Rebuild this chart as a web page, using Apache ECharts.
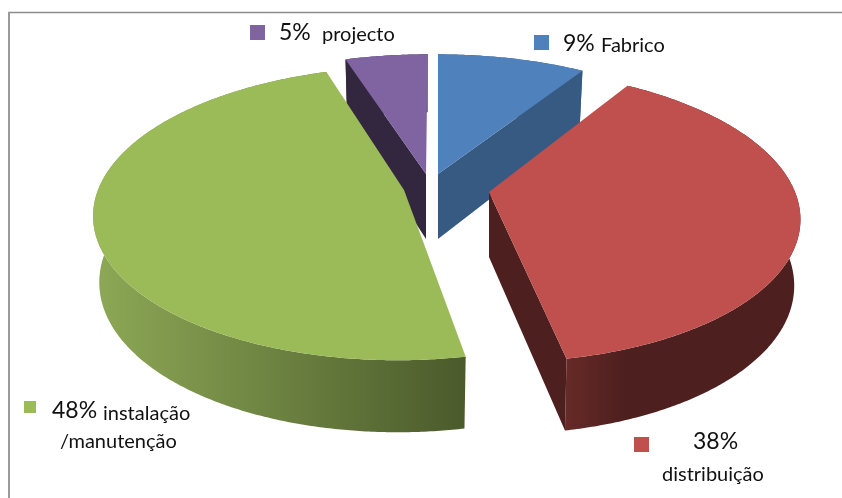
<!DOCTYPE html>
<html>
<head>
<meta charset="utf-8">
<style>html,body{margin:0;padding:0;background:#fff}#chart{width:842px;height:498px}</style>
<script src="https://cdn.jsdelivr.net/npm/echarts@6/dist/echarts.min.js"></script>
</head>
<body>
<div id="chart"></div>
<script>
// Shares of the four activities, clockwise from twelve o'clock.
const categories = ['Fabrico', 'distribuição', 'instalação /manutenção', 'projecto'];
const shares = [9, 38, 48, 5];

// Appearance of each slice.
const topColors = ['#4f81bd', '#c0504d', '#9bbb59', '#8064a2'];
const faceColors = ['#375a83', '#4d1f1e', '#4b5b2b', '#33263f'];
const wallStops = [
  ['#375a83', '#375a83'],
  ['#662a28', '#4d1f1e'],
  ['#8ca755', '#4a5a2b'],
  ['#33263f', '#33263f']
];
const wallSpan = [[438, 580], [567, 625], [100, 467], [347, 427]];
const paintOrder = [2, 3, 4, 1];

// Each slice is pulled out of the pie: where its tip lands and how far back it sits.
const sliceTip = [[438, 174], [489, 192], [404, 190], [426, 174]];
const sliceBack = [0.1, 0, 0, 0.1];

// Perspective settings of the pie.
const axisX = 438, radiusX = 306, radiusY = 143, persp = 0.16;
const floorScale = 0.98, wallHeight = 65, wallTaper = 7;

// Key entries: swatch box, percentage position, name lines.
const keyFont = 'Lato, "Open Sans", sans-serif';
const keyBoxes = [[534, 35, 15], [634, 437, 15], [24, 401, 12], [250, 25, 15]];
const keyValues = [[563, 44], [693, 442], [52, 411], [279, 33]];
const keyNames = [
  [['Fabrico', 601, 46]],
  [['distribuição', 662, 475]],
  [['instalação', 103, 414], ['/manutenção', 60, 442]],
  [['projecto', 322, 35]]
];

function project(i, deg, r, floor) {
  const a = deg * Math.PI / 180, yn = r * Math.cos(a), back = sliceBack[i];
  const tip = sliceTip[i], off = tip[0] - axisX;
  const dx = (off + radiusX * r * Math.sin(a)) / (1 + persp * yn) - off;
  const dy = radiusY * ((yn + back) / (1 + persp * (yn + back)) - back / (1 + persp * back));
  return [
    tip[0] + dx * (floor ? floorScale : 1),
    tip[1] - dy + (floor ? wallHeight - wallTaper * yn : 0)
  ];
}

function arc(i, from, to, floor) {
  const pts = [], steps = Math.max(2, Math.ceil((to - from) * 2));
  for (let k = 0; k <= steps; k++) pts.push(project(i, from + (to - from) * k / steps, 1, floor));
  return pts;
}

function radialFace(i, deg) {
  return {
    type: 'polygon',
    shape: { points: [project(i, 0, 0, false), project(i, deg, 1, false), project(i, deg, 1, true), project(i, 0, 0, true)] },
    style: { fill: faceColors[i] }
  };
}

const total = shares.reduce((s, v) => s + v, 0);

function renderSlice(params, api) {
  const i = params.dataIndex;
  let before = 0;
  for (let k = 0; k < i; k++) before += shares[k];
  const from = before / total * 360;
  const to = from + api.value(1) / total * 360;
  const children = [];

  // Rim of the slice, shaded from left to right.
  children.push({
    type: 'polygon',
    shape: { points: arc(i, from, to, false).concat(arc(i, from, to, true).reverse()) },
    style: {
      fill: new echarts.graphic.LinearGradient(wallSpan[i][0], 0, wallSpan[i][1], 0, [
        { offset: 0, color: wallStops[i][0] },
        { offset: 1, color: wallStops[i][1] }
      ], true)
    }
  });

  // Cut faces are only seen when they turn towards the viewer.
  if (Math.sin(from * Math.PI / 180) < -0.01) children.push(radialFace(i, from));
  if (Math.sin(to * Math.PI / 180) > 0.01) children.push(radialFace(i, to));

  children.push({
    type: 'polygon',
    shape: { points: [project(i, 0, 0, false)].concat(arc(i, from, to, false)) },
    style: { fill: topColors[i] }
  });

  // Key entry for this slice.
  const box = keyBoxes[i];
  children.push({
    type: 'rect',
    shape: { x: box[0], y: box[1], width: box[2], height: box[2] },
    style: { fill: topColors[i] }
  });
  children.push({
    type: 'text',
    style: { x: keyValues[i][0], y: keyValues[i][1], text: api.value(1) + '%', fill: '#111', font: '23px ' + keyFont, verticalAlign: 'middle' }
  });
  keyNames[i].forEach(n => children.push({
    type: 'text',
    style: { x: n[1], y: n[2], text: n[0], fill: '#111', font: '20px ' + keyFont, verticalAlign: 'middle' }
  }));

  return { type: 'group', z2: paintOrder[i], children: children.map(c => Object.assign(c, { z2: paintOrder[i] })) };
}

const chart = echarts.init(document.getElementById('chart'), null, { renderer: 'canvas' });
chart.setOption({
  animation: false,
  backgroundColor: '#ffffff',
  graphic: [
    { type: 'line', shape: { x1: 8, y1: 12.5, x2: 842, y2: 12.5 }, style: { stroke: '#8c8c8c', lineWidth: 1.5 } },
    { type: 'line', shape: { x1: 9, y1: 12, x2: 9, y2: 498 }, style: { stroke: '#9a9a9a', lineWidth: 2 } }
  ],
  series: [{
    type: 'custom',
    coordinateSystem: 'none',
    renderItem: renderSlice,
    data: categories.map((c, i) => ({ name: c, value: [i, shares[i]] }))
  }]
});
</script>
</body>
</html>
